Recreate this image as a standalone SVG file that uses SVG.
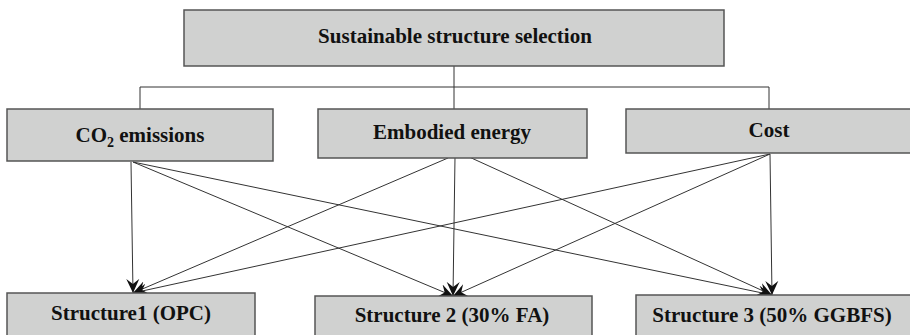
<svg xmlns="http://www.w3.org/2000/svg" width="910" height="335" viewBox="0 0 910 335">
<style>
.box{fill:#d0d1d0;stroke:#555;stroke-width:1.5}
.lbl{font-family:"Liberation Serif","Times New Roman",serif;font-weight:bold;font-size:21px;fill:#111;text-anchor:middle}
.ln{fill:none;stroke:#333;stroke-width:1}
.ar{fill:none;stroke:#333;stroke-width:1;marker-end:url(#ah)}
</style>
<defs>
<marker id="ah" markerUnits="userSpaceOnUse" markerWidth="16" markerHeight="14" refX="14" refY="7" orient="auto">
<path d="M0,0.5 L14,7 L0,13.5 L5,7 Z" fill="#111"/>
</marker>
</defs>
<g id="connectors">
<path class="ln" d="M454,66 V87 M140,87 H769 M140,87 V109 M454,87 V109 M769,87 V109"/>
<line class="ar" x1="131" y1="162" x2="133" y2="293"/>
<line class="ar" x1="133" y1="162" x2="453" y2="296"/>
<line class="ar" x1="133" y1="162" x2="772" y2="295"/>
<line class="ar" x1="448" y1="158" x2="133" y2="293"/>
<line class="ar" x1="455" y1="157" x2="453" y2="296"/>
<line class="ar" x1="467" y1="156" x2="772" y2="295"/>
<line class="ar" x1="770" y1="154" x2="133" y2="293"/>
<line class="ar" x1="770" y1="154" x2="453" y2="296"/>
<line class="ar" x1="770" y1="154" x2="772" y2="295"/>
</g>
<g id="top">
<rect class="box" x="184" y="10" width="540" height="56"/>
<text class="lbl" x="455" y="43">Sustainable structure selection</text>
</g>
<g id="co2">
<rect class="box" x="7" y="109" width="266" height="52"/>
<text class="lbl" x="140" y="142">CO<tspan font-size="14" dy="5">2</tspan><tspan dy="-5"> emissions</tspan></text>
</g>
<g id="energy">
<rect class="box" x="318" y="109" width="269" height="49"/>
<text class="lbl" x="452" y="139">Embodied energy</text>
</g>
<g id="cost">
<rect class="box" x="626" y="109" width="290" height="44"/>
<text class="lbl" x="769" y="137">Cost</text>
</g>
<g id="s1">
<rect class="box" x="7" y="293" width="248" height="50"/>
<text class="lbl" x="131" y="320">Structure1 (OPC)</text>
</g>
<g id="s2">
<rect class="box" x="315" y="296" width="277" height="50"/>
<text class="lbl" x="452" y="322">Structure 2 (30% FA)</text>
</g>
<g id="s3">
<rect class="box" x="636" y="295" width="290" height="50"/>
<text class="lbl" x="772" y="322">Structure 3 (50% GGBFS)</text>
</g>
</svg>
